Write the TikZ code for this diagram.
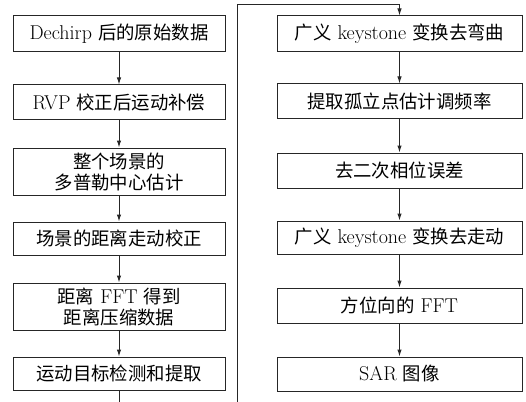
\documentclass[tikz,border=0pt]{standalone}
\usepackage{fontspec}
\newfontfamily\cjk[Scale=0.92]{Noto Sans CJK SC}
\usetikzlibrary{arrows.meta}
\begin{document}
\begin{tikzpicture}[x=1pt,y=-1pt,
  flowbox/.style={draw=black!85, line width=1pt, inner sep=0pt, align=center,
    font=\fontsize{20}{21}\selectfont},
  lbox/.style={flowbox, minimum width=212pt},
  rbox/.style={flowbox, minimum width=245pt},
  link/.style={draw=black!85, line width=1pt},
  arr/.style={link, -{Latex[length=7pt,width=4.5pt]}}]
\useasboundingbox (0,0) rectangle (526,401);
\clip (0,0) rectangle (526,401);
\fill[white] (0,0) rectangle (526,401);
% left column
\node[lbox, minimum height=36pt] (L1) at (119,34) {Dechirp {\cjk 后的原始数据}};
\node[lbox, minimum height=34pt] (L2) at (119,102) {RVP {\cjk 校正后运动补偿}};
\node[lbox, minimum height=47pt] (L3) at (119,171.5) {{\cjk 整个场景的}\\{\cjk 多普勒中心估计}};
\node[lbox, minimum height=33pt] (L4) at (119,238.5) {{\cjk 场景的距离走动校正}};
\node[lbox, minimum height=47pt] (L5) at (119,306.5) {{\cjk 距离} FFT {\cjk 得到}\\{\cjk 距离压缩数据}};
\node[lbox, minimum height=33pt] (L6) at (119,373.5) {{\cjk 运动目标检测和提取}};
% right column
\node[rbox, minimum height=36pt] (R1) at (399.5,34) {{\cjk 广义} keystone {\cjk 变换去弯曲}};
\node[rbox, minimum height=34pt] (R2) at (399.5,101) {{\cjk 提取孤立点估计调频率}};
\node[rbox, minimum height=35pt] (R3) at (399.5,170.5) {{\cjk 去二次相位误差}};
\node[rbox, minimum height=33pt] (R4) at (399.5,237.5) {{\cjk 广义} keystone {\cjk 变换去走动}};
\node[rbox, minimum height=35pt] (R5) at (399.5,305.5) {{\cjk 方位向的} FFT};
\node[rbox, minimum height=34pt] (R6) at (399.5,374) {SAR {\cjk 图像}};
% arrows
\draw[arr] (L1) -- (L2);
\draw[arr] (L2) -- (L3);
\draw[arr] (L3) -- (L4);
\draw[arr] (L4) -- (L5);
\draw[arr] (L5) -- (L6);
\draw[arr] (R1) -- (R2);
\draw[arr] (R2) -- (R3);
\draw[arr] (R3) -- (R4);
\draw[arr] (R4) -- (R5);
\draw[arr] (R5) -- (R6);
% connector from left column to right column
\coordinate (b1) at (119,420);
\coordinate (b2) at (237,420);
\coordinate (t1) at (237,5);
\coordinate (t2) at (399.5,5);
\draw[arr] (L6.south) -- (b1) -- (b2) -- (t1) -- (t2) -- (R1.north);
\end{tikzpicture}
\end{document}
